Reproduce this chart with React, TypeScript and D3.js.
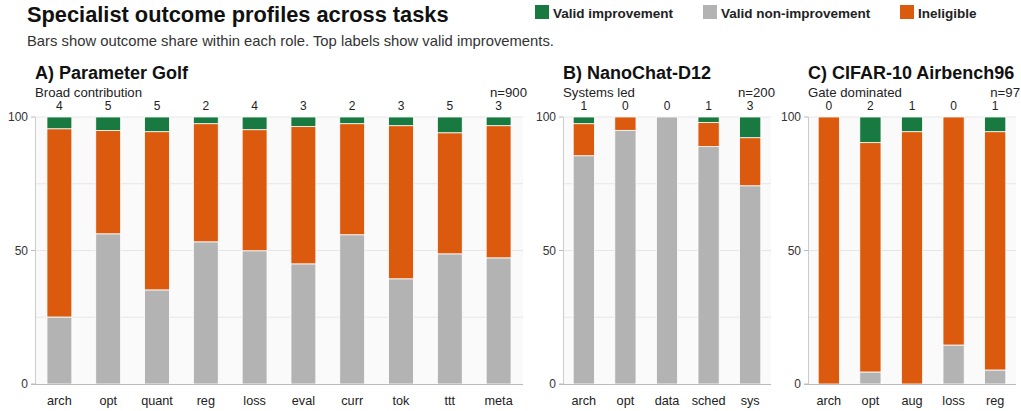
import React, { useEffect } from "react";
import * as d3 from "d3";

// ---- data ----
const rolesA = ["arch", "opt", "quant", "reg", "loss", "eval", "curr", "tok", "ttt", "meta"];
const improvedCountA = [4, 5, 5, 2, 4, 3, 2, 3, 5, 3];
const nonImprovePctA = [25.1, 56.25, 35.25, 53.25, 49.9, 45, 55.9, 39.4, 48.75, 47.25];
const ineligiblePctA = [70.5, 38.65, 59.25, 44.25, 45.35, 51.4, 41.6, 57.35, 45.35, 49.5];
const improvePctA = [4.4, 5.1, 5.5, 2.5, 4.75, 3.6, 2.5, 3.25, 5.9, 3.25];

const rolesB = ["arch", "opt", "data", "sched", "sys"];
const improvedCountB = [1, 0, 0, 1, 3];
const nonImprovePctB = [85.5, 95, 100, 88.9, 74.25];
const ineligiblePctB = [12, 5, 0, 9, 18];
const improvePctB = [2.5, 0, 0, 2.1, 7.75];

const rolesC = ["arch", "opt", "aug", "loss", "reg"];
const improvedCountC = [0, 2, 1, 0, 1];
const nonImprovePctC = [0, 4.5, 0, 14.6, 5.25];
const ineligiblePctC = [100, 85.9, 94.5, 85.4, 89.25];
const improvePctC = [0, 9.6, 5.5, 0, 5.5];

const panelTitles = ["A) Parameter Golf", "B) NanoChat-D12", "C) CIFAR-10 Airbench96"];
const panelSubtitles = ["Broad contribution", "Systems led", "Gate dominated"];
const panelN = ["n=900", "n=200", "n=97"];
const yTicks = [0, 50, 100];
const gridValues = [25, 50, 75, 100];

const seriesKeys = ["nonImprove", "ineligible", "improve"];
const seriesLabels = ["Valid improvement", "Valid non-improvement", "Ineligible"];
const colors: Record<string, string> = {
  improve: "#187a40",
  nonImprove: "#b3b3b3",
  ineligible: "#dc5a0d",
};

const FONT = "'Liberation Sans', Arial, Helvetica, sans-serif";

type Panel = {
  roles: string[];
  counts: number[];
  non: number[];
  inel: number[];
  imp: number[];
  x0: number;
  x1: number;
};

const panels: Panel[] = [
  { roles: rolesA, counts: improvedCountA, non: nonImprovePctA, inel: ineligiblePctA, imp: improvePctA, x0: 35, x1: 523 },
  { roles: rolesB, counts: improvedCountB, non: nonImprovePctB, inel: ineligiblePctB, imp: improvePctB, x0: 563, x1: 771 },
  { roles: rolesC, counts: improvedCountC, non: nonImprovePctC, inel: ineligiblePctC, imp: improvePctC, x0: 808, x1: 1016 },
];

const TOP = 117;
const BOTTOM = 384;

function PanelView({ p, idx }: { p: Panel; idx: number }) {
  const x = d3
    .scaleBand<string>()
    .domain(p.roles)
    .range([p.x0, p.x1])
    .paddingInner(0.49)
    .paddingOuter(0.245);
  const y = d3.scaleLinear().domain([0, 100]).range([BOTTOM, TOP]);
  const rows = p.roles.map((r, i) => ({ role: r, nonImprove: p.non[i], ineligible: p.inel[i], improve: p.imp[i] }));
  const stack = d3.stack<any>().keys(seriesKeys)(rows);

  return (
    <g>
      <text x={p.x0} y={79} fontSize={18} fontWeight="bold" fill="#111" fontFamily={FONT}>
        {panelTitles[idx]}
      </text>
      <text x={p.x0} y={97} fontSize={13.2} fill="#222" fontFamily={FONT}>
        {panelSubtitles[idx]}
      </text>
      <text x={p.x1 + 4} y={97} fontSize={13.2} fill="#222" textAnchor="end" fontFamily={FONT}>
        {panelN[idx]}
      </text>
      {p.roles.map((r, i) => (
        <text
          key={"c" + r}
          x={(x(r) as number) + x.bandwidth() / 2}
          y={109.5}
          fontSize={12}
          fill="#222"
          textAnchor="middle"
          fontFamily={FONT}
        >
          {p.counts[i]}
        </text>
      ))}
      <rect x={p.x0} y={TOP} width={p.x1 - p.x0} height={BOTTOM - TOP} fill="#fafafa" />
      {gridValues.map((v) => (
        <line key={"g" + v} x1={p.x0} x2={p.x1} y1={y(v)} y2={y(v)} stroke="#e6e6e6" strokeWidth={1} />
      ))}
      {stack.map((s) =>
        s.map((d, i) => {
          const h = y(d[0]) - y(d[1]);
          if (h <= 0) return null;
          return (
            <rect
              key={s.key + i}
              x={x(p.roles[i]) as number}
              y={y(d[1])}
              width={x.bandwidth()}
              height={h}
              fill={colors[s.key]}
              stroke="#ffffff"
              strokeWidth={0.8}
            />
          );
        })
      )}
      <line x1={p.x0 + 0.5} x2={p.x0 + 0.5} y1={TOP} y2={BOTTOM} stroke="#cccccc" />
      <line x1={p.x0 - 4} x2={p.x1} y1={BOTTOM + 0.5} y2={BOTTOM + 0.5} stroke="#bbbbbb" />
      {yTicks.map((t) => (
        <g key={"t" + t}>
          <line x1={p.x0 - 4} x2={p.x0} y1={y(t)} y2={y(t)} stroke="#bbbbbb" />
          <text x={p.x0 - 7} y={y(t) + 4} fontSize={12} fill="#333" textAnchor="end" fontFamily={FONT}>
            {t}
          </text>
        </g>
      ))}
      {p.roles.map((r) => (
        <text
          key={"l" + r}
          x={(x(r) as number) + x.bandwidth() / 2}
          y={405}
          fontSize={12.7}
          fill="#222"
          textAnchor="middle"
          fontFamily={FONT}
        >
          {r}
        </text>
      ))}
    </g>
  );
}

export default function App() {
  useEffect(() => {
    document.body.style.margin = "0";
  }, []);
  const legendKeys = ["improve", "nonImprove", "ineligible"];
  const legendX = [535, 703, 900];
  return (
    <div style={{ position: "absolute", left: 0, top: 0 }}>
      <svg width={1021} height={411} style={{ display: "block", background: "#ffffff" }}>
        <text x={27} y={22} fontSize={21.8} fontWeight="bold" fill="#111" fontFamily={FONT}>
          Specialist outcome profiles across tasks
        </text>
        <text x={27} y={46} fontSize={14.8} fill="#333" fontFamily={FONT}>
          Bars show outcome share within each role. Top labels show valid improvements.
        </text>
        {legendKeys.map((k, i) => (
          <g key={k}>
            <rect x={legendX[i]} y={5} width={14} height={14} fill={colors[k]} />
            <text x={legendX[i] + 18} y={18} fontSize={13.5} fontWeight="bold" fill="#222" fontFamily={FONT}>
              {seriesLabels[i]}
            </text>
          </g>
        ))}
        {panels.map((p, i) => (
          <PanelView key={i} p={p} idx={i} />
        ))}
      </svg>
    </div>
  );
}
